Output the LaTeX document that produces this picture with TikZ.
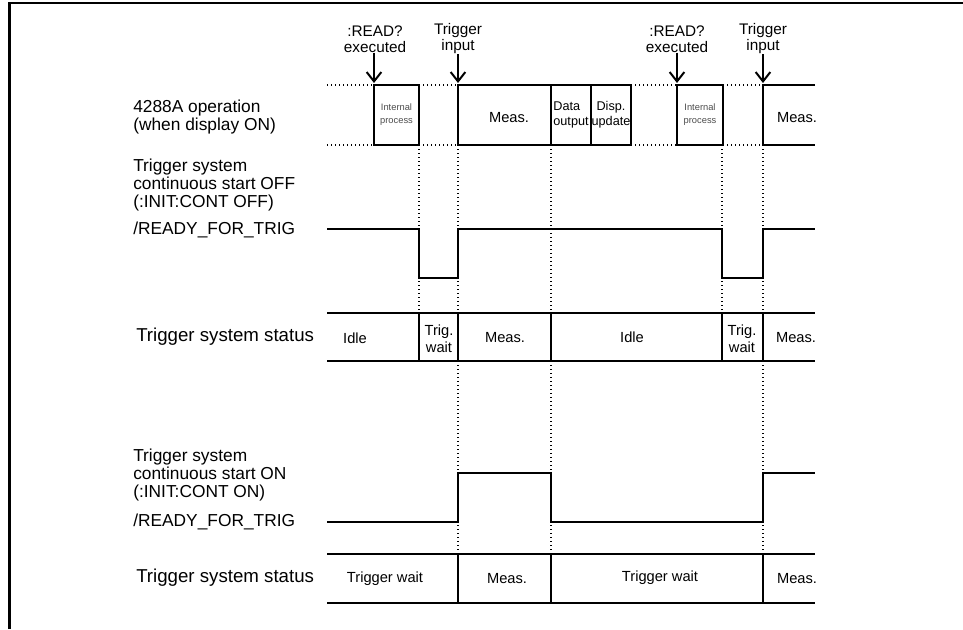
\documentclass[tikz,border=0pt]{standalone}
\usepackage{fontspec}
\setmainfont{Liberation Sans}
\usetikzlibrary{arrows.meta}

\begin{document}
\begin{tikzpicture}[x=0.75pt,y=0.75pt,yscale=-1,xscale=1,
  sig/.style={line width=1.5pt},
  guide/.style={line width=1.1pt, dash pattern=on 1.1pt off 1.9pt},
  trigarrow/.style={line width=1.5pt, -{Straight Barb[length=7pt,width=11pt,line width=1.5pt]}},
  lbl/.style={anchor=west, inner sep=0pt, align=left, font=\fontsize{13}{13.3}\selectfont},
  statlbl/.style={anchor=west, inner sep=0pt, font=\fontsize{14}{16}\selectfont},
  cell/.style={inner sep=0pt, align=center, font=\fontsize{11}{12.75}\selectfont},
  evt/.style={inner sep=0pt, align=center, font=\fontsize{11.5}{12}\selectfont},
  tiny/.style={inner sep=0pt, align=center, text=black!70, font=\fontsize{7}{9.75}\selectfont}]
\path[use as bounding box] (0,0) rectangle (963,629);

%Frame
\draw [line width=2pt] (9.5,629) -- (9.5,3) -- (963,3) ;

%Guide lines (dotted)
\draw [guide] (327,85) -- (374,85) (419,85) -- (458,85) (631,85) -- (677,85) (723,85) -- (763,85) ;
\draw [guide] (327,145) -- (374,145) (419,145) -- (458,145) (631,145) -- (677,145) (723,145) -- (763,145) ;
\draw [guide] (419,145) -- (419,313) (722,145) -- (722,313) ;
\draw [guide] (458,145) -- (458,554) (551,145) -- (551,554) (763,145) -- (763,554) ;

%4288A operation
\draw [sig] (374,85) rectangle (419,145) ;
\draw [sig] (458,85) rectangle (631,145) ;
\draw [sig] (551,85) -- (551,145) (591,85) -- (591,145) ;
\draw [sig] (677,85) rectangle (723,145) ;
\draw [sig] (815,85) -- (763,85) -- (763,145) -- (815,145) ;

%/READY_FOR_TRIG, continuous start OFF
\draw [sig] (327,229) -- (419,229) -- (419,278) -- (458,278) -- (458,229) -- (722,229) -- (722,278) -- (763,278) -- (763,229) -- (815,229) ;

%Trigger system status, OFF
\draw [sig] (327,313) -- (815,313) (327,361) -- (815,361) ;
\draw [sig] (419,313) -- (419,361) (458,313) -- (458,361) (551,313) -- (551,361) (722,313) -- (722,361) (763,313) -- (763,361) ;

%/READY_FOR_TRIG, continuous start ON
\draw [sig] (327,522) -- (458,522) -- (458,473) -- (551,473) -- (551,522) -- (763,522) -- (763,473) -- (815,473) ;

%Trigger system status, ON
\draw [sig] (327,554) -- (815,554) (327,603) -- (815,603) ;
\draw [sig] (458,554) -- (458,603) (551,554) -- (551,603) (763,554) -- (763,603) ;

% Event Nodes
\node [evt] (read1) at (375,39) {:READ?\\executed};
\node [evt] (trig1) at (458,39) {Trigger\\input};
\node [evt] (read2) at (677,39) {:READ?\\executed};
\node [evt] (trig2) at (763,39) {Trigger\\input};
\coordinate (e1) at (374,83);
\coordinate (e2) at (458,83);
\coordinate (e3) at (677,83);
\coordinate (e4) at (763,83);
\draw [trigarrow] (read1.south -| e1) -- (e1) ;
\draw [trigarrow] (trig1.south -| e2) -- (e2) ;
\draw [trigarrow] (read2.south -| e3) -- (e3) ;
\draw [trigarrow] (trig2.south -| e4) -- (e4) ;

% Text Node
\node [lbl] (oplbl) at (133,117) {4288A operation\\(when display ON)};
\node [lbl] (offlbl) at (133,185) {Trigger system\\continuous start OFF\\(:INIT:CONT OFF)};
\node [lbl] (offsig) at (133,230) {/READY\_FOR\_TRIG};
\node [statlbl] (offstat) at (136,337) {Trigger system status};
\node [lbl] (onlbl) at (133,475) {Trigger system\\continuous start ON\\(:INIT:CONT ON)};
\node [lbl] (onsig) at (133,522) {/READY\_FOR\_TRIG};
\node [statlbl] (onstat) at (136,578) {Trigger system status};

% Operation cells
\node [tiny] (int1) at (396.5,115) {Internal\\process};
\node [cell] (meas1) at (509,118) {Meas.};
\node [cell, align=left, font=\fontsize{9.5}{11}\selectfont] (dout) at (571,115) {Data\\output};
\node [cell, font=\fontsize{9.5}{11}\selectfont] (disp) at (611,115) {Disp.\\update};
\node [tiny] (int2) at (700,115) {Internal\\process};
\node [cell] (meas2) at (797,118) {Meas.};

% Status cells, OFF
\node [cell] (idle1) at (355,338) {Idle};
\node [cell] (wait1) at (439,339) {Trig.\\wait};
\node [cell] (meas3) at (505,338) {Meas.};
\node [cell] (idle2) at (632,337) {Idle};
\node [cell] (wait2) at (742,339) {Trig.\\wait};
\node [cell] (meas4) at (796,338) {Meas.};

% Status cells, ON
\node [cell] (wait3) at (385,579) {Trigger wait};
\node [cell] (meas5) at (507,579) {Meas.};
\node [cell] (wait4) at (660,578) {Trigger wait};
\node [cell] (meas6) at (797,579) {Meas.};

\end{tikzpicture}
\end{document}
